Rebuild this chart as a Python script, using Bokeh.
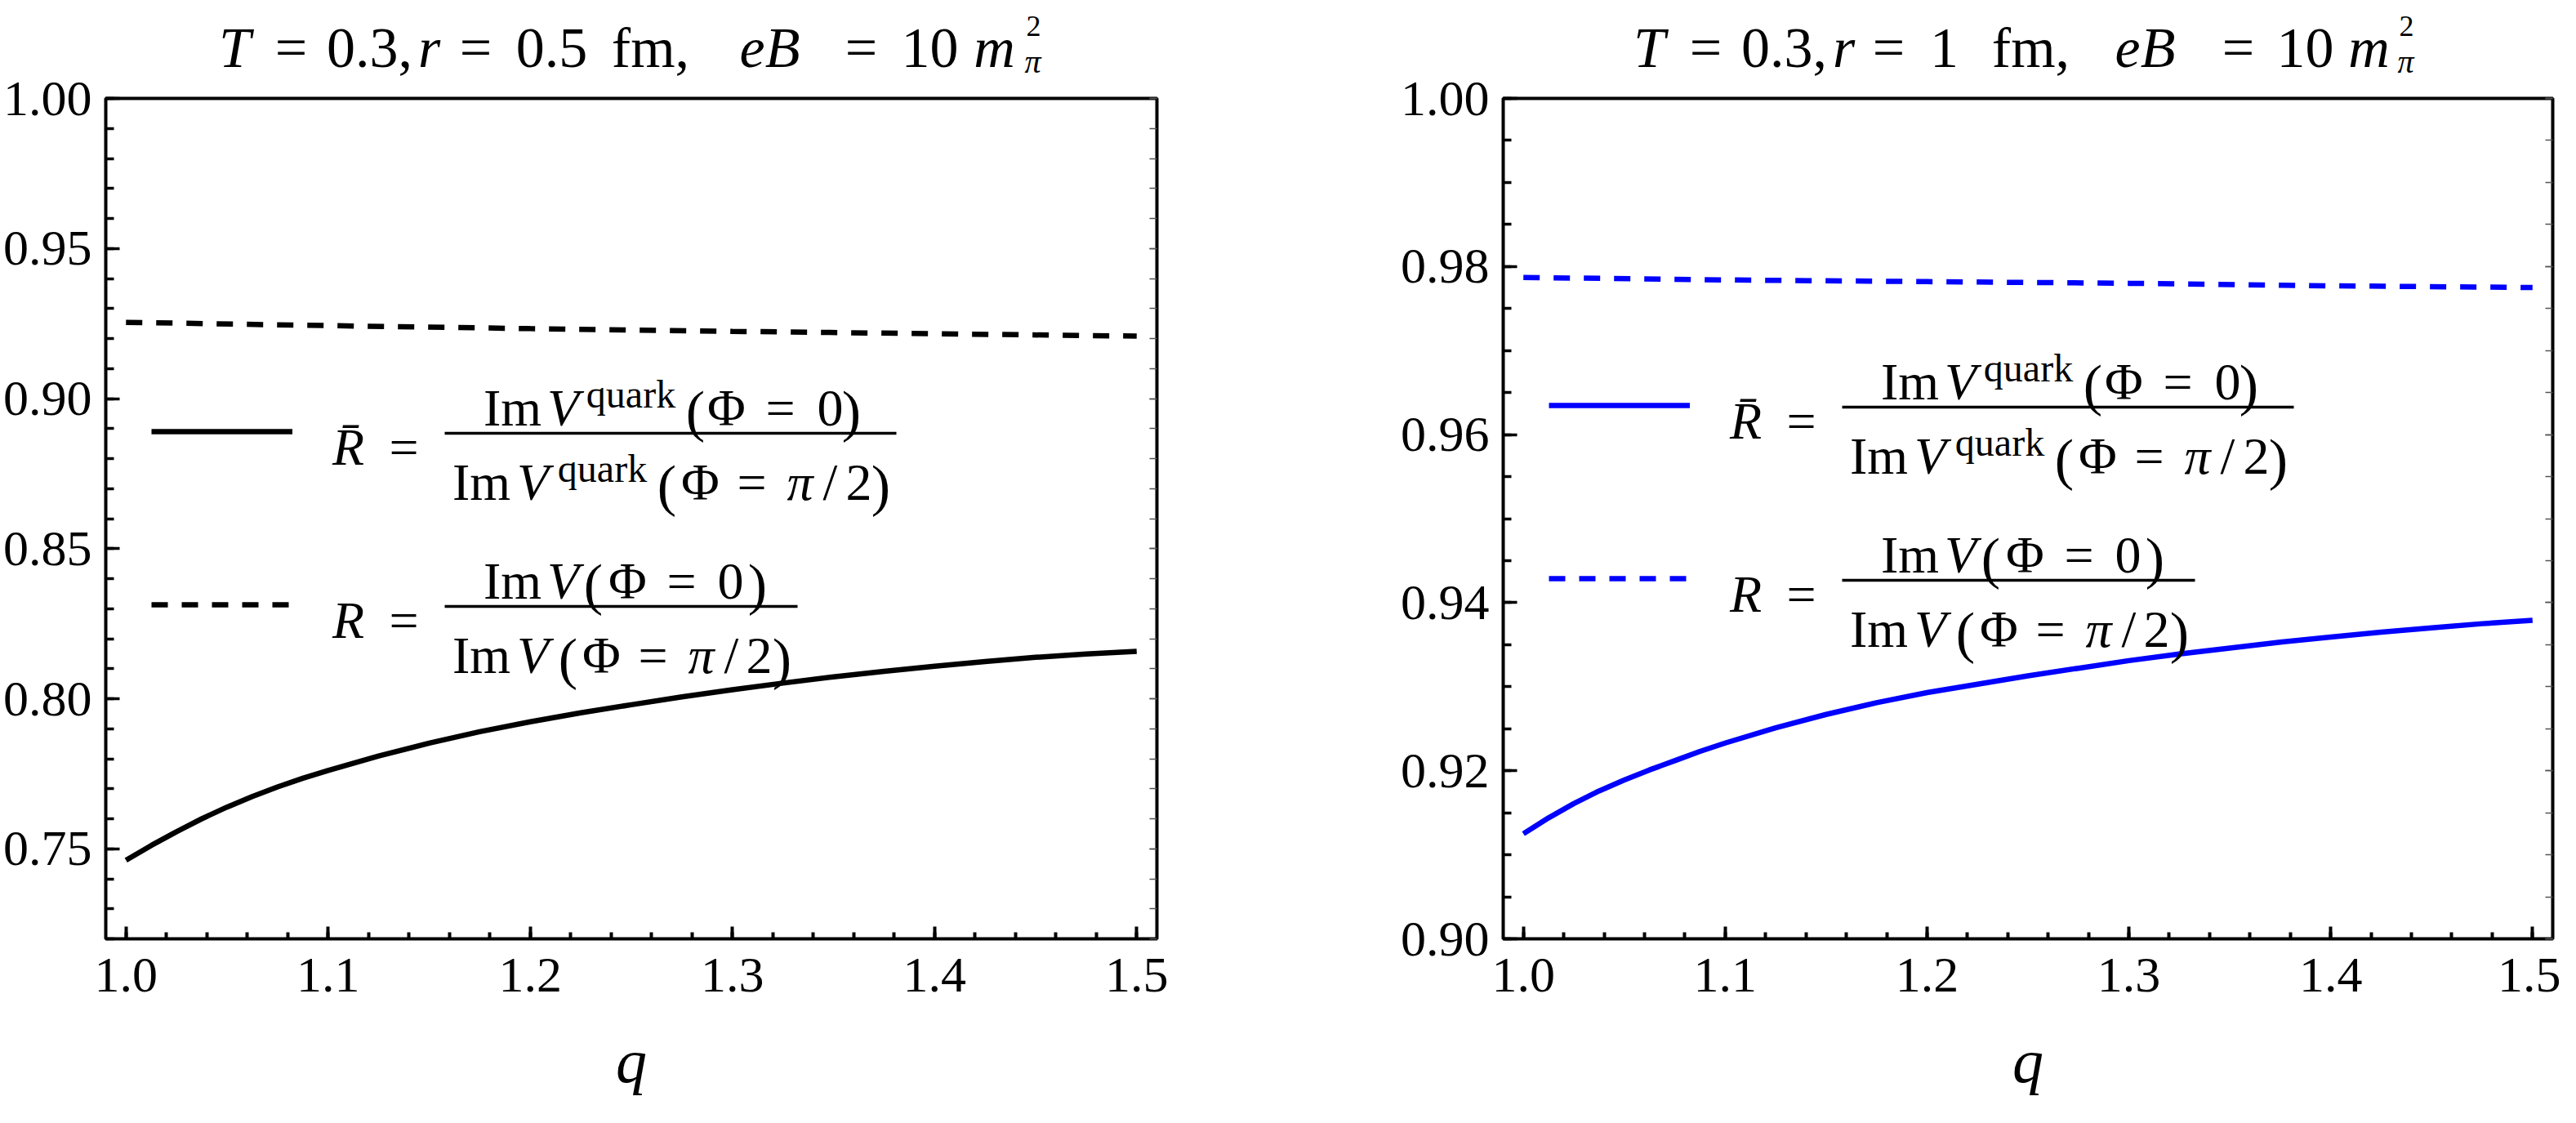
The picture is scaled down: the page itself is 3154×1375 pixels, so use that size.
from bokeh.plotting import figure
from bokeh.models import (Range1d, LinearAxis, FixedTicker, Label, BoxAnnotation,
                          Legend, LegendItem, NumeralTickFormatter, CustomJSTickFormatter)
from bokeh.layouts import row, column
from bokeh.embed import file_html
from bokeh.resources import INLINE

# ---------------- data ----------------
q_solid = [1.000, 1.0125, 1.025, 1.0375, 1.050, 1.0625, 1.075, 1.0875, 1.100, 1.125, 1.150, 1.175,
           1.200, 1.225, 1.250, 1.275, 1.300, 1.325, 1.350, 1.375, 1.400, 1.425, 1.450, 1.475, 1.500]
Rbar_left = [0.7462, 0.7511, 0.7557, 0.7600, 0.7639, 0.7674, 0.7706, 0.7735, 0.7761, 0.7809, 0.7852, 0.7890,
             0.7923, 0.7953, 0.7980, 0.8006, 0.8030, 0.8052, 0.8073, 0.8091, 0.8108, 0.8124, 0.8138, 0.8149, 0.8158]
Rbar_right = [0.9125, 0.9144, 0.9161, 0.9176, 0.9189, 0.9201, 0.9212, 0.9223, 0.9233, 0.9251, 0.9267, 0.9281,
              0.9293, 0.9303, 0.9313, 0.9322, 0.9331, 0.9339, 0.9346, 0.9353, 0.9359, 0.9365, 0.9370, 0.9375, 0.9379]
q_dashed = [1.0, 1.1, 1.2, 1.3, 1.4, 1.5]
R_left = [0.9254, 0.9243, 0.9233, 0.9224, 0.9216, 0.9208]
R_right = [0.9787, 0.9784, 0.9782, 0.9780, 0.9777, 0.9775]

x_ticks = [1.0, 1.1, 1.2, 1.3, 1.4, 1.5]
x_minor = [round(1.0 + 0.02 * i, 2) for i in range(26)]
y_ticks_left = [0.75, 0.80, 0.85, 0.90, 0.95, 1.00]
y_minor_left = [round(0.72 + 0.01 * i, 2) for i in range(29)]
y_ticks_right = [0.90, 0.92, 0.94, 0.96, 0.98, 1.00]
y_minor_right = [round(0.90 + 0.005 * i, 3) for i in range(21)]

x_label = "q"
title_left = ["T", "=", "0.3,", "r", "=", "0.5", "fm,", "eB", "=", "10", "m"]
title_right = ["T", "=", "0.3,", "r", "=", "1", "fm,", "eB", "=", "10", "m"]
title_italic = [True, False, False, True, False, False, False, True, False, False, True]

# ---------------- layout constants (page pixels) ----------------
SERIF = "Liberation Serif"
PAGE = 8
TH = 100      # title strip height
FT = 128      # frame top
FB = 1157     # frame bottom
H = 1359 - TH

# ink centres of the title pieces (page x)
title_cx_left = [295, 364, 460, 533, 590, 683, 804, 950, 1062, 1146, 1225]
title_cx_right = [2027, 2096, 2192, 2265, 2320, 2388, 2494, 2634, 2748, 2830, 2908]

# approximate advance widths (em) of the serif font, used to centre pieces
W_REG = {".": .25, ",": .25, "=": .564, "(": .333, ")": .333, "/": .278, "I": .333, "m": .778,
         "f": .333, "q": .5, "u": .5, "a": .444, "r": .333, "k": .5, "\u03a6": .763, " ": .25}
W_IT = {"T": .556, "r": .389, "e": .444, "B": .611, "m": .722, "V": .611, "R": .611,
        "\u03c0": .5, "\u0304": 0.0}


def text_w(s, size, italic):
    tab = W_IT if italic else W_REG
    return size * sum(tab.get(c, W_REG.get(c, .5)) for c in s)


def make_label(x, y, s, size, italic, units):
    return Label(x=x, y=y, x_units=units, y_units=units, text=s,
                 text_font=SERIF, text_font_size=f"{size}px",
                 text_font_style="italic" if italic else "normal",
                 text_baseline="alphabetic", text_align="left", text_color="black")


def bar(p, fl, x0, x1, y, t=3.5):
    p.add_layout(BoxAnnotation(left=x0 - fl, right=x1 - fl, top=FB - (y - t / 2), bottom=FB - (y + t / 2),
                               left_units="screen", right_units="screen",
                               top_units="screen", bottom_units="screen",
                               fill_color="black", fill_alpha=1.0, line_color=None))


def make_title(fig_x, fig_w, tparts, tcx, sup_cx):
    # a strip whose data coordinates are page pixels (y pointing down)
    t = figure(width=fig_w, height=TH, x_range=Range1d(fig_x, fig_x + fig_w),
               y_range=Range1d(PAGE + TH, PAGE),
               output_backend="svg", toolbar_location=None, title=None,
               x_axis_location=None, y_axis_location=None,
               min_border_left=0, min_border_right=0, min_border_top=0, min_border_bottom=0)
    t.grid.visible = False
    t.outline_line_color = None
    t.background_fill_color = "white"
    t.border_fill_color = "white"
    for s, it, cx in zip(tparts, title_italic, tcx):
        t.add_layout(make_label(cx - text_w(s, 70, it) / 2, 66, s, 70, it, "data"))
    t.add_layout(make_label(sup_cx - 8, 39, "2", 36, False, "data"))
    t.add_layout(make_label(sup_cx - 10, 83, "\u03c0", 40, True, "data"))
    return t


def make_panel(fig_x, fl, fw, fig_w, yr, yt, ym, rbar, rr, color, ys):
    p = figure(width=fig_w, height=H, x_range=Range1d(0.99, 1.51), y_range=Range1d(*yr),
               output_backend="svg", toolbar_location=None, title=None,
               min_border_left=fl - fig_x, min_border_right=fig_w - (fl - fig_x) - fw,
               min_border_top=FT - PAGE - TH, min_border_bottom=H - (FB - PAGE - TH))
    p.grid.visible = False
    p.outline_line_color = "black"
    p.outline_line_width = 4
    p.outline_line_alpha = 1.0
    p.background_fill_color = "white"
    p.border_fill_color = "white"

    xa = p.xaxis[0]
    xa.ticker = FixedTicker(ticks=x_ticks, minor_ticks=x_minor)
    xa.formatter = NumeralTickFormatter(format="0.0")
    xa.axis_line_color = None
    xa.major_tick_in, xa.major_tick_out = 15, 0
    xa.minor_tick_in, xa.minor_tick_out = 8, 0
    xa.major_tick_line_width = 4
    xa.minor_tick_line_width = 4
    xa.major_tick_line_color = "black"
    xa.minor_tick_line_color = "black"
    xa.major_label_text_font = SERIF
    xa.major_label_text_font_size = "62px"
    xa.major_label_text_color = "black"
    xa.major_label_standoff = 24
    xa.axis_label = x_label
    xa.axis_label_text_font = SERIF
    xa.axis_label_text_font_style = "italic"
    xa.axis_label_text_font_size = "76px"
    xa.axis_label_text_color = "black"
    xa.axis_label_standoff = 40

    ya = p.yaxis[0]
    ya.ticker = FixedTicker(ticks=yt, minor_ticks=ym)
    ya.formatter = NumeralTickFormatter(format="0.00")
    ya.axis_line_color = None
    ya.major_tick_in, ya.major_tick_out = 17, 0
    ya.minor_tick_in, ya.minor_tick_out = 10, 0
    ya.major_tick_line_width = 3.5
    ya.minor_tick_line_width = 3.5
    ya.major_tick_line_color = "black"
    ya.minor_tick_line_color = "black"
    ya.major_label_text_font = SERIF
    ya.major_label_text_font_size = "62px"
    ya.major_label_text_color = "black"
    ya.major_label_standoff = 17

    ra = LinearAxis(ticker=FixedTicker(ticks=yt, minor_ticks=ym),
                    formatter=CustomJSTickFormatter(code="return ''"),
                    axis_line_color=None, major_tick_in=9, major_tick_out=0,
                    minor_tick_in=9, minor_tick_out=0,
                    major_tick_line_width=1.5, minor_tick_line_width=1.5,
                    major_tick_line_color="#555555", minor_tick_line_color="#555555",
                    major_label_standoff=0)
    p.add_layout(ra, "right")

    r1 = p.line(q_solid, rbar, line_color=color, line_width=6.5)
    r2 = p.line(q_dashed, rr, line_color=color, line_width=6.5, line_dash="20 17")

    leg = Legend(items=[LegendItem(label=" ", renderers=[r1]), LegendItem(label=" ", renderers=[r2])],
                 location=(56, FB - (ys + 232)), glyph_width=173, glyph_height=40,
                 label_height=40, label_width=1, label_standoff=0, spacing=172,
                 padding=0, margin=0, border_line_color=None, background_fill_alpha=0,
                 label_text_font_size="10px")
    p.add_layout(leg)

    def t(cx, y, s, size, italic=False):
        x = fl + cx - text_w(s, size, italic) / 2.0
        p.add_layout(make_label(x - fl, FB - y, s, size, italic, "screen"))

    F, FS, FP = 64, 48, 70
    # legend entry 1:  R-bar = ImV^quark(Phi=0) / ImV^quark(Phi=pi/2)
    yn, yd_ = ys - 29, ys + 62
    t(297, ys + 19, "R\u0304", F, True)
    t(365, ys + 19, "=", F)
    bar(p, fl, fl + 415, fl + 968, ys + 2)
    t(498, yn, "Im", F)
    t(560, yn, "V", F, True)
    t(643, yn - 17, "quark", FS)
    t(722, yn + 4, "(", FP)
    t(761, yn, "\u03a6", F)
    t(826, yn, "=", F)
    t(887, yn, "0", F)
    t(913, yn + 4, ")", FP)
    t(460, yd_, "Im", F)
    t(523, yd_, "V", F, True)
    t(608, yd_ - 17, "quark", FS)
    t(687, yd_ + 4, "(", FP)
    t(729, yd_, "\u03a6", F)
    t(791, yd_, "=", F)
    t(850, yd_, "\u03c0", F, True)
    t(887, yd_, "/", F)
    t(922, yd_, "2", F)
    t(949, yd_ + 4, ")", FP)

    # legend entry 2:  R = ImV(Phi=0) / ImV(Phi=pi/2)
    y2 = ys + 212
    yn, yd_ = y2 - 29, y2 + 62
    t(297, y2 + 19, "R", F, True)
    t(365, y2 + 19, "=", F)
    bar(p, fl, fl + 415, fl + 847, y2 + 2)
    t(498, yn, "Im", F)
    t(560, yn, "V", F, True)
    t(597, yn + 4, "(", FP)
    t(640, yn, "\u03a6", F)
    t(705, yn, "=", F)
    t(765, yn, "0", F)
    t(798, yn + 4, ")", FP)
    t(460, yd_, "Im", F)
    t(523, yd_, "V", F, True)
    t(566, yd_ + 4, "(", FP)
    t(608, yd_, "\u03a6", F)
    t(670, yd_, "=", F)
    t(729, yd_, "\u03c0", F, True)
    t(766, yd_, "/", F)
    t(800, yd_, "2", F)
    t(828, yd_ + 4, ")", FP)
    return p


W1, W2 = 1700, 1435
t1 = make_title(8, W1, title_left, title_cx_left, 1272)
t2 = make_title(8 + W1, W2, title_right, title_cx_right, 2953)
p1 = make_panel(fig_x=8, fl=135, fw=1289, fig_w=W1, yr=(0.72, 1.00),
                yt=y_ticks_left, ym=y_minor_left, rbar=Rbar_left, rr=R_left, color="black", ys=536)
p2 = make_panel(fig_x=8 + W1, fl=1848, fw=1285, fig_w=W2, yr=(0.90, 1.00),
                yt=y_ticks_right, ym=y_minor_right, rbar=Rbar_right, rr=R_right, color="#0000ff", ys=504)

layout = column(row(t1, t2), row(p1, p2))
open("out.html", "w").write(file_html(layout, INLINE))
